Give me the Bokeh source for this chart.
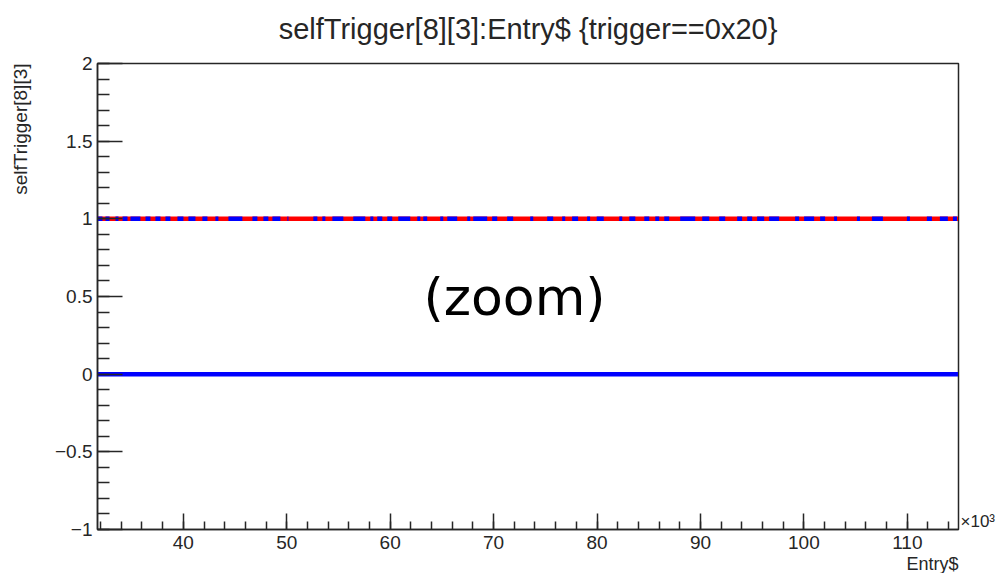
from bokeh.plotting import figure
from bokeh.models import Label, SingleIntervalTicker, FixedTicker, Range1d, Title, LinearAxis
from bokeh.embed import file_html
from bokeh.resources import INLINE

# ---- data (Entry$ in units of 10^3) ----
entry_span = [31.7, 114.9]          # full range of entries drawn
zero_level = [0, 0]                 # selfTrigger == 0 (blue)
one_level = [1, 1]                  # selfTrigger == 1 (red)
blue_start = [31.70, 32.47, 33.44, 34.12, 34.89, 36.34, 37.30, 38.27, 39.43, 40.49,
              41.84, 43.10, 44.36, 46.68, 47.74, 48.61, 50.06, 52.57, 53.44, 54.41,
              56.43, 58.08, 58.75, 59.72, 60.78, 62.62, 63.20, 64.84, 65.52, 67.45,
              68.03, 69.86, 71.31, 73.54, 75.18, 76.63, 77.59, 79.04, 79.97, 82.15,
              83.12, 84.57, 85.63, 86.50, 88.04, 90.17, 91.81, 93.55, 94.52, 95.48,
              96.64, 99.15, 100.02, 101.57, 102.92, 105.13, 106.58, 109.96, 111.89, 113.15,
              114.41]
blue_end = [32.18, 32.86, 33.73, 34.60, 35.85, 36.82, 37.79, 38.75, 40.01, 41.17,
            42.33, 43.39, 45.71, 47.16, 48.22, 49.38, 50.16, 52.96, 53.73, 55.47,
            57.59, 58.37, 59.24, 60.20, 61.94, 62.91, 63.58, 65.13, 66.48, 67.74,
            69.38, 70.35, 71.89, 73.83, 75.76, 76.92, 78.17, 79.33, 80.65, 82.44,
            83.70, 85.05, 86.01, 86.98, 89.49, 90.85, 92.39, 94.03, 95.00, 96.16,
            97.61, 99.54, 100.99, 102.05, 103.21, 105.42, 107.64, 110.25, 112.38, 113.92,
            114.80]
blue_level = [1] * len(blue_start)

y_tick_labels = {2: "2", 1.5: "1.5", 1: "1", 0.5: "0.5", 0: "0", -0.5: "\u22120.5", -1: "\u22121"}
x_tick_labels = {40: "40", 50: "50", 60: "60", 70: "70", 80: "80", 90: "90", 100: "100", 110: "110"}
x_exponent_label = {-0.95: "\u00d710\u00b3"}

FONT = "Liberation Sans"
INK = "#262626"

p = figure(width=999, height=573, output_backend="svg", toolbar_location=None,
           x_range=Range1d(31.7, 114.95), y_range=Range1d(-1, 2),
           min_border_left=97, min_border_right=41, min_border_top=62, min_border_bottom=43,
           background_fill_color="white", border_fill_color="white")
p.grid.visible = False
p.outline_line_color = INK
p.outline_line_width = 1.5

# spacer between frame and main title (pushes the title upward)
p.add_layout(Title(text=" ", text_font_size="1px", standoff=6), "above")

# title
p.title.text = "selfTrigger[8][3]:Entry$ {trigger==0x20}"
p.title.text_font = FONT
p.title.text_font_size = "29px"
p.title.text_font_style = "normal"
p.title.text_color = INK
p.title.align = "center"
p.title.standoff = 20

# lines
p.line(entry_span, zero_level, line_color="#0000ff", line_width=4.5)
p.line(entry_span, one_level, line_color="#ff0000", line_width=4.5)
p.segment(x0=blue_start, x1=blue_end, y0=blue_level, y1=blue_level,
          line_color="#0000ff", line_width=4.5)

# axes
xa = p.xaxis[0]
xa.ticker = SingleIntervalTicker(interval=10, num_minor_ticks=5)
xa.major_label_overrides = x_tick_labels
xa.major_tick_in = 16
xa.major_tick_out = 0
xa.minor_tick_in = 8
xa.minor_tick_out = 0
xa.major_label_standoff = 6

ya = p.yaxis[0]
ya.ticker = SingleIntervalTicker(interval=0.5, num_minor_ticks=5)
ya.major_label_overrides = y_tick_labels
ya.major_tick_in = 25
ya.major_tick_out = 0
ya.minor_tick_in = 12
ya.minor_tick_out = 0
ya.major_label_standoff = 5

for ax in (xa, ya):
    ax.axis_line_color = INK
    ax.axis_line_width = 1.5
    ax.major_tick_line_color = INK
    ax.major_tick_line_width = 1.5
    ax.minor_tick_line_color = INK
    ax.minor_tick_line_width = 1.5
    ax.major_label_text_font = FONT
    ax.major_label_text_font_size = "19px"
    ax.major_label_text_color = INK

# x exponent marker at the lower right corner
ra = LinearAxis(ticker=FixedTicker(ticks=list(x_exponent_label.keys())),
                major_label_overrides=x_exponent_label,
                axis_line_color=None, major_tick_line_color=None, minor_tick_line_color=None,
                major_tick_in=0, major_tick_out=0, minor_tick_in=0, minor_tick_out=0,
                major_label_standoff=2, major_label_text_font=FONT,
                major_label_text_font_size="17px", major_label_text_color=INK)
p.add_layout(ra, "right")

# axis titles (ROOT style, aligned to the axis end)
p.add_layout(Title(text="Entry$", align="right", text_font=FONT, text_font_size="18px",
                   text_font_style="normal", text_color=INK, standoff=0), "below")
p.add_layout(Title(text=" ", text_font_size="1px", standoff=11), "left")
p.add_layout(Title(text="selfTrigger[8][3]", align="right", text_font=FONT, text_font_size="19px",
                   text_font_style="normal", text_color=INK, standoff=13), "left")

# overlay text
p.add_layout(Label(x=417, y=233, x_units="screen", y_units="screen", text="(zoom)",
                   text_font="DejaVu Sans", text_font_size="52px", text_align="center",
                   text_baseline="middle", text_color="black"))

open("out.html", "w").write(file_html(p, INLINE))
